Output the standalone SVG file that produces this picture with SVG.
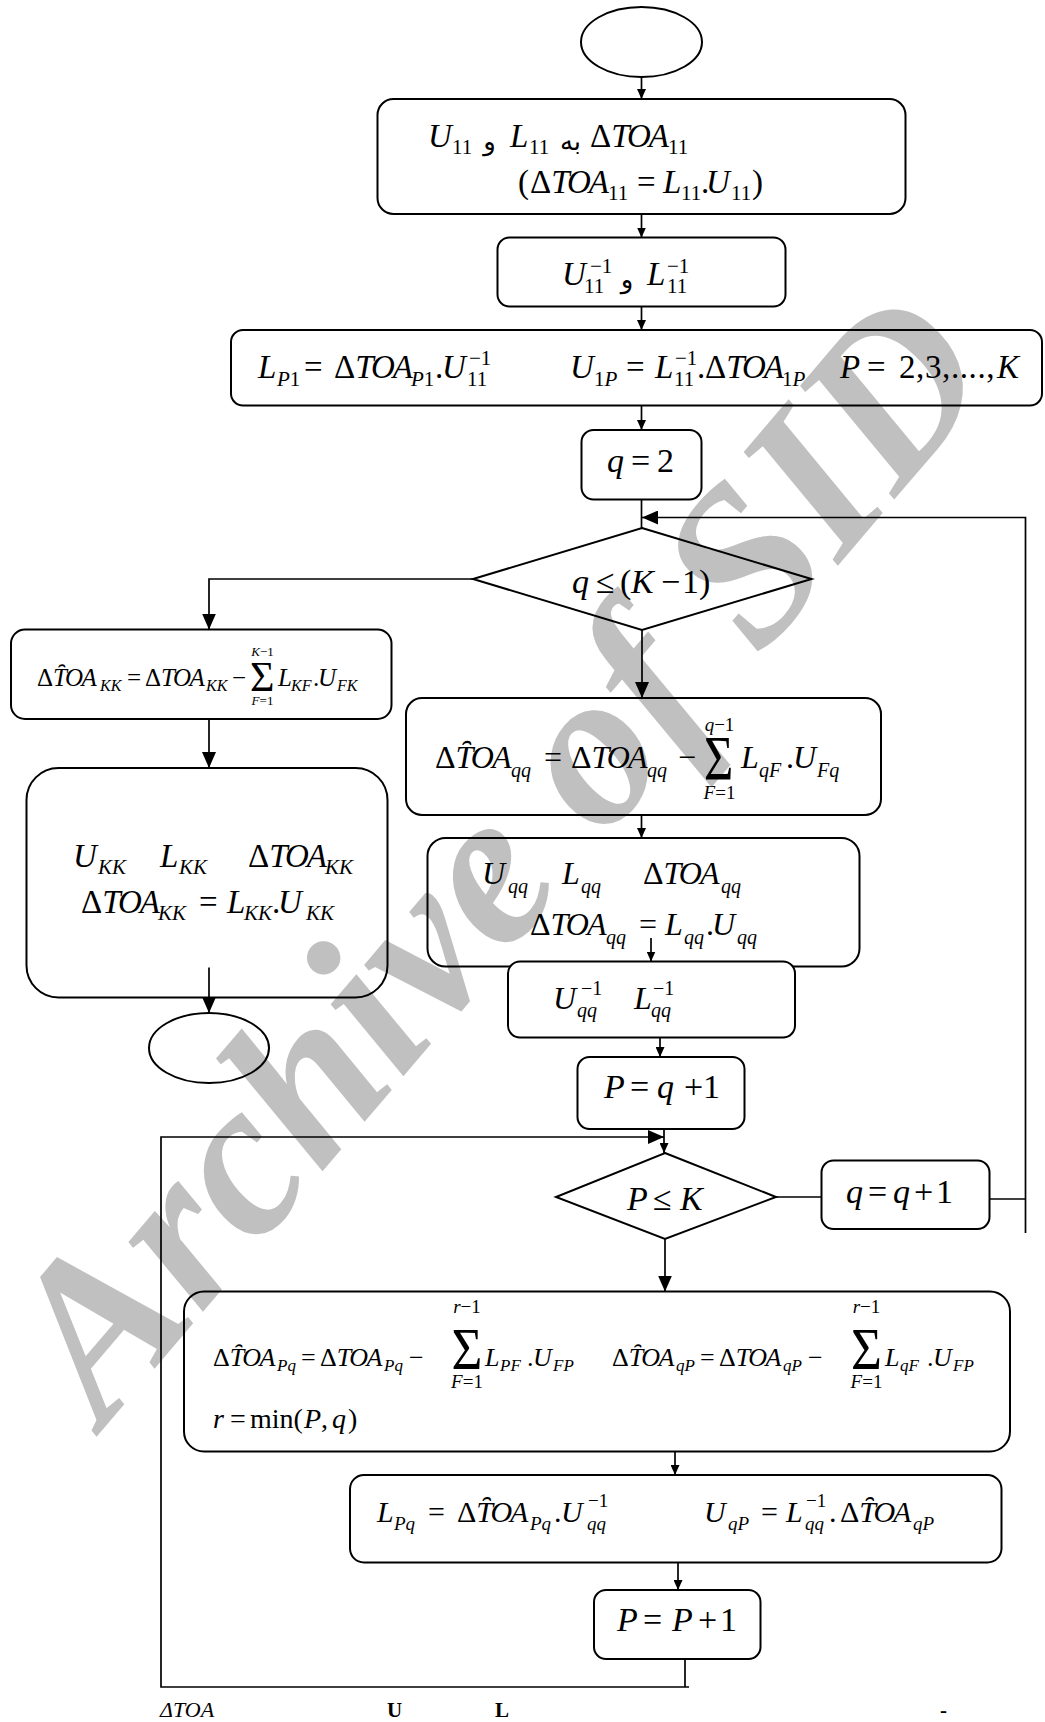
<svg xmlns="http://www.w3.org/2000/svg" width="1045" height="1722" viewBox="0 0 1045 1722">
<style>
text{font-family:"Liberation Serif","Times New Roman",serif;fill:#000;font-style:italic}
.n{font-style:normal}
.k{letter-spacing:-2px}
.k2{letter-spacing:-1.5px}
.ar{font-family:"DejaVu Sans","Noto Sans",sans-serif;font-style:normal}
.b{fill:none;stroke:#000;stroke-width:2}
.bw{fill:#fff;stroke:#000;stroke-width:2}
.c{fill:none;stroke:#000;stroke-width:1.7}
.wm{font-family:"Liberation Serif",serif;font-style:italic;font-weight:bold;fill:#c0c0c0}
.ft{font-weight:bold;font-style:normal}
</style>
<defs>
<marker id="s" viewBox="0 0 10 9" refX="10" refY="4.5" markerWidth="10" markerHeight="9" markerUnits="userSpaceOnUse" orient="auto"><path d="M0,0L10,4.5L0,9z" fill="#000"/></marker>
<marker id="l" viewBox="0 0 16 14" refX="16" refY="7" markerWidth="16" markerHeight="14" markerUnits="userSpaceOnUse" orient="auto"><path d="M0,0L16,7L0,14z" fill="#000"/></marker>
</defs>
<rect width="1045" height="1722" fill="#fff"/>
<text class="wm" font-size="222" transform="translate(104,1428) rotate(-49.6)">Archive of SID</text>

<g id="start"><ellipse class="b" cx="641.5" cy="42" rx="60.5" ry="35"/></g>

<g id="box1">
<rect class="b" x="377.5" y="99" width="528" height="115" rx="16"/>
<text font-size="33"><tspan x="428" y="147">U</tspan><tspan class="n" x="452" y="154" font-size="21">11</tspan><tspan x="510" y="147">L</tspan><tspan class="n" x="529" y="154" font-size="21">11</tspan><tspan class="n" x="590" y="147">Δ</tspan><tspan class="k" y="147">TOA</tspan><tspan class="n" x="668" y="154" font-size="21">11</tspan></text>
<text class="ar" font-size="26" x="489.5" y="150" text-anchor="middle">و</text>
<text class="ar" font-size="26" x="570.5" y="150" text-anchor="middle">به</text>
<text font-size="33"><tspan class="n" x="518" y="193">(</tspan><tspan class="n" x="530" y="193">Δ</tspan><tspan class="k" y="193">TOA</tspan><tspan class="n" x="608" y="200" font-size="21">11</tspan><tspan class="n" x="637" y="193">=</tspan><tspan x="663" y="193">L</tspan><tspan class="n" x="681" y="200" font-size="21">11</tspan><tspan class="n" x="701" y="193">.</tspan><tspan x="706" y="193">U</tspan><tspan class="n" x="731" y="200" font-size="21">11</tspan><tspan class="n" x="752" y="193">)</tspan></text>
</g>

<g id="box2">
<rect class="b" x="497.5" y="237.5" width="288" height="69" rx="12"/>
<text font-size="33"><tspan x="562" y="285">U</tspan><tspan class="n" font-size="21" x="590" y="273">−1</tspan><tspan class="n" font-size="21" x="584" y="293">11</tspan><tspan x="647" y="285">L</tspan><tspan class="n" font-size="21" x="667" y="273">−1</tspan><tspan class="n" font-size="21" x="667" y="293">11</tspan></text>
<text class="ar" font-size="26" x="627" y="288" text-anchor="middle">و</text>
</g>

<g id="box3">
<rect class="b" x="231" y="330" width="811" height="75.5" rx="12"/>
<text font-size="33"><tspan x="258" y="378">L</tspan><tspan font-size="21" x="277" y="386">P</tspan><tspan class="n" font-size="21" y="386">1</tspan><tspan class="n" x="304" y="378">=</tspan><tspan class="n" x="334" y="378">Δ</tspan><tspan class="k" y="378">TOA</tspan><tspan font-size="21" x="411" y="386">P</tspan><tspan class="n" font-size="21" y="386">1</tspan><tspan class="n" x="435" y="378">.</tspan><tspan x="442" y="378">U</tspan><tspan class="n" font-size="21" x="469" y="365">−1</tspan><tspan class="n" font-size="21" x="467" y="386">11</tspan><tspan x="570" y="378">U</tspan><tspan class="n" font-size="21" x="594" y="386">1</tspan><tspan font-size="21" y="386">P</tspan><tspan class="n" x="626" y="378">=</tspan><tspan x="655" y="378">L</tspan><tspan class="n" font-size="21" x="675" y="365">−1</tspan><tspan class="n" font-size="21" x="674" y="386">11</tspan><tspan class="n" x="697" y="378">.</tspan><tspan class="n" x="705" y="378">Δ</tspan><tspan class="k" y="378">TOA</tspan><tspan class="n" font-size="21" x="782" y="386">1</tspan><tspan font-size="21" y="386">P</tspan><tspan x="840" y="378">P</tspan><tspan class="n" x="867" y="378">=</tspan><tspan class="n" x="899" y="378" style="letter-spacing:0.6px">2,3,....,</tspan><tspan x="997" y="378">K</tspan></text>
</g>

<g id="box4">
<rect class="b" x="581.5" y="430" width="120" height="69.5" rx="12"/>
<text font-size="34"><tspan x="607" y="472">q</tspan><tspan class="n" x="631" y="472">=</tspan><tspan class="n" x="657" y="472">2</tspan></text>
</g>

<g id="dec1">
<polygon class="b" points="642,528 811.5,579 642,630 473,579"/>
<text font-size="34"><tspan x="572" y="593">q</tspan><tspan class="n" x="596" y="593">≤</tspan><tspan class="n" x="620" y="593">(</tspan><tspan x="631" y="593">K</tspan><tspan class="n" x="661" y="593">−</tspan><tspan class="n" x="682" y="593">1</tspan><tspan class="n" x="699" y="593">)</tspan></text>
</g>

<g id="box5">
<rect class="b" x="11" y="629.5" width="380.5" height="89.5" rx="14"/>
<text font-size="25"><tspan class="n" x="37" y="686">Δ</tspan><tspan class="k2" y="686">T&#x311;OA</tspan><tspan font-size="16" x="100" y="691">KK</tspan><tspan class="n" x="127" y="686">=</tspan><tspan class="n" x="145" y="686">Δ</tspan><tspan class="k2" y="686">TOA</tspan><tspan font-size="16" x="206" y="691">KK</tspan><tspan class="n" x="232" y="686">−</tspan><tspan x="278" y="686">L</tspan><tspan font-size="16" x="291" y="691">KF</tspan><tspan class="n" x="313" y="686">.</tspan><tspan x="318" y="686">U</tspan><tspan font-size="16" x="337" y="691">FK</tspan></text>
<text class="n" font-size="42" x="250" y="691">Σ</text>
<text font-size="13" x="262.5" y="656" text-anchor="middle">K<tspan class="n">−1</tspan></text>
<text font-size="13" x="262.5" y="705" text-anchor="middle">F<tspan class="n">=1</tspan></text>
</g>

<g id="box6">
<rect class="b" x="26.5" y="768" width="361" height="229.5" rx="32"/>
<text font-size="33"><tspan x="73" y="867">U</tspan><tspan font-size="21" x="98" y="874">KK</tspan><tspan x="160" y="867">L</tspan><tspan font-size="21" x="179" y="874">KK</tspan><tspan class="n" x="248" y="867">Δ</tspan><tspan class="k" y="867">TOA</tspan><tspan font-size="21" x="325" y="874">KK</tspan></text>
<text font-size="33"><tspan class="n" x="81" y="913">Δ</tspan><tspan class="k" y="913">TOA</tspan><tspan font-size="21" x="158" y="920">KK</tspan><tspan class="n" x="199" y="913">=</tspan><tspan x="227" y="913">L</tspan><tspan font-size="21" x="244" y="920">KK</tspan><tspan class="n" x="272" y="913">.</tspan><tspan x="278" y="913">U</tspan><tspan font-size="21" x="306" y="920">KK</tspan></text>
</g>

<g id="end"><ellipse class="b" cx="209" cy="1048" rx="60" ry="35"/></g>

<g id="box7">
<rect class="b" x="406" y="698" width="475" height="117" rx="16"/>
<text font-size="32"><tspan class="n" x="435" y="768">Δ</tspan><tspan class="k" y="768">T&#x311;OA</tspan><tspan font-size="20" x="511" y="777">qq</tspan><tspan class="n" x="544" y="768">=</tspan><tspan class="n" x="571" y="768">Δ</tspan><tspan class="k" y="768">TOA</tspan><tspan font-size="20" x="647" y="777">qq</tspan><tspan class="n" x="678" y="768">−</tspan><tspan x="741" y="768">L</tspan><tspan font-size="20" x="759" y="777">qF</tspan><tspan class="n" x="786" y="768">.</tspan><tspan x="793" y="768">U</tspan><tspan font-size="20" x="817" y="777">Fq</tspan></text>
<text class="n" font-size="63" transform="translate(704,780) scale(0.8,1)">Σ</text>
<text font-size="19" x="719.5" y="731" text-anchor="middle">q<tspan class="n">−1</tspan></text>
<text font-size="19" x="719.5" y="799" text-anchor="middle">F<tspan class="n">=1</tspan></text>
</g>

<g id="box8">
<rect class="b" x="427.5" y="838" width="432" height="128.5" rx="18"/>
<text font-size="32"><tspan x="482" y="884">U</tspan><tspan font-size="20" x="508" y="893">qq</tspan><tspan x="562" y="884">L</tspan><tspan font-size="20" x="581" y="893">qq</tspan><tspan class="n" x="643" y="884">Δ</tspan><tspan class="k" y="884">TOA</tspan><tspan font-size="20" x="721" y="893">qq</tspan></text>
<text font-size="32"><tspan class="n" x="530" y="935">Δ</tspan><tspan class="k" y="935">TOA</tspan><tspan font-size="20" x="606" y="944">qq</tspan><tspan class="n" x="639" y="935">=</tspan><tspan x="665" y="935">L</tspan><tspan font-size="20" x="684" y="944">qq</tspan><tspan class="n" x="706" y="935">.</tspan><tspan x="712" y="935">U</tspan><tspan font-size="20" x="737" y="944">qq</tspan></text>
</g>

<g id="box9">
<rect class="bw" x="508" y="961.5" width="287" height="76" rx="12"/>
<text font-size="32"><tspan x="553" y="1009">U</tspan><tspan class="n" font-size="20" x="581" y="995">−1</tspan><tspan font-size="20" x="577" y="1017">qq</tspan><tspan x="634" y="1009">L</tspan><tspan class="n" font-size="20" x="653" y="995">−1</tspan><tspan font-size="20" x="651" y="1017">qq</tspan></text>
</g>

<g id="box10">
<rect class="b" x="577.5" y="1057" width="167" height="72" rx="12"/>
<text font-size="34"><tspan x="604" y="1098">P</tspan><tspan class="n" x="630" y="1098">=</tspan><tspan x="657" y="1098">q</tspan><tspan class="n" x="684" y="1098">+</tspan><tspan class="n" x="703" y="1098">1</tspan></text>
</g>

<g id="dec2">
<polygon class="b" points="665,1153 776,1197 665,1239 556,1197"/>
<text font-size="34"><tspan x="627" y="1210">P</tspan><tspan class="n" x="653" y="1210">≤</tspan><tspan x="680" y="1210">K</tspan></text>
</g>

<g id="box11">
<rect class="b" x="821.5" y="1160.5" width="168" height="68.5" rx="12"/>
<text font-size="34"><tspan x="846" y="1203">q</tspan><tspan class="n" x="868" y="1203">=</tspan><tspan x="893" y="1203">q</tspan><tspan class="n" x="914" y="1203">+</tspan><tspan class="n" x="936" y="1203">1</tspan></text>
</g>

<g id="box12">
<rect class="b" x="184" y="1291.5" width="826" height="160" rx="20"/>
<text font-size="26"><tspan class="n" x="213" y="1366">Δ</tspan><tspan class="k2" y="1366">T&#x311;OA</tspan><tspan font-size="17" x="277" y="1371">Pq</tspan><tspan class="n" x="301" y="1366">=</tspan><tspan class="n" x="320" y="1366">Δ</tspan><tspan class="k2" y="1366">TOA</tspan><tspan font-size="17" x="384" y="1371">Pq</tspan><tspan class="n" x="409" y="1366">−</tspan><tspan x="485" y="1366">L</tspan><tspan font-size="17" x="500" y="1371">PF</tspan><tspan class="n" x="527" y="1366">.</tspan><tspan x="533" y="1366">U</tspan><tspan font-size="17" x="553" y="1371">FP</tspan></text>
<text class="n" font-size="59" transform="translate(451.5,1369) scale(0.9,1)">Σ</text>
<text font-size="19" x="467" y="1313" text-anchor="middle">r<tspan class="n">−1</tspan></text>
<text font-size="19" x="467" y="1388" text-anchor="middle">F<tspan class="n">=1</tspan></text>
<text font-size="26"><tspan class="n" x="612" y="1366">Δ</tspan><tspan class="k2" y="1366">T&#x311;OA</tspan><tspan font-size="17" x="676" y="1371">qP</tspan><tspan class="n" x="700" y="1366">=</tspan><tspan class="n" x="719" y="1366">Δ</tspan><tspan class="k2" y="1366">TOA</tspan><tspan font-size="17" x="783" y="1371">qP</tspan><tspan class="n" x="808" y="1366">−</tspan><tspan x="885" y="1366">L</tspan><tspan font-size="17" x="900" y="1371">qF</tspan><tspan class="n" x="927" y="1366">.</tspan><tspan x="933" y="1366">U</tspan><tspan font-size="17" x="953" y="1371">FP</tspan></text>
<text class="n" font-size="59" transform="translate(851,1369) scale(0.9,1)">Σ</text>
<text font-size="19" x="866.5" y="1313" text-anchor="middle">r<tspan class="n">−1</tspan></text>
<text font-size="19" x="866.5" y="1388" text-anchor="middle">F<tspan class="n">=1</tspan></text>
<text font-size="28"><tspan x="213" y="1428">r</tspan><tspan class="n" x="230" y="1428">=</tspan><tspan class="n" x="250" y="1428">min(</tspan><tspan x="304" y="1428">P</tspan><tspan class="n" x="321" y="1428">,</tspan><tspan x="332" y="1428">q</tspan><tspan class="n" x="348" y="1428">)</tspan></text>
</g>

<g id="box13">
<rect class="b" x="350" y="1475" width="651.5" height="87.5" rx="14"/>
<text font-size="30"><tspan x="377" y="1522">L</tspan><tspan font-size="19" x="394" y="1530">Pq</tspan><tspan class="n" x="428" y="1522">=</tspan><tspan class="n" x="457" y="1522">Δ</tspan><tspan class="k" y="1522">T&#x311;OA</tspan><tspan font-size="19" x="530" y="1530">Pq</tspan><tspan class="n" x="554" y="1522">.</tspan><tspan x="561" y="1522">U</tspan><tspan class="n" font-size="19" x="588" y="1507">−1</tspan><tspan font-size="19" x="587" y="1530">qq</tspan><tspan x="704" y="1522">U</tspan><tspan font-size="19" x="728" y="1530">qP</tspan><tspan class="n" x="761" y="1522">=</tspan><tspan x="786" y="1522">L</tspan><tspan class="n" font-size="19" x="806" y="1507">−1</tspan><tspan font-size="19" x="805" y="1530">qq</tspan><tspan class="n" x="829" y="1522">.</tspan><tspan class="n" x="840" y="1522">Δ</tspan><tspan class="k" y="1522">T&#x311;OA</tspan><tspan font-size="19" x="913" y="1530">qP</tspan></text>
</g>

<g id="box14">
<rect class="b" x="594" y="1590" width="166.5" height="69" rx="12"/>
<text font-size="34"><tspan x="617" y="1631">P</tspan><tspan class="n" x="643" y="1631">=</tspan><tspan x="672" y="1631">P</tspan><tspan class="n" x="698" y="1631">+</tspan><tspan class="n" x="720" y="1631">1</tspan></text>
</g>

<g id="connectors">
<path class="c" d="M641.5,77V99" marker-end="url(#s)"/>
<path class="c" d="M641.5,214V237.5" marker-end="url(#s)"/>
<path class="c" d="M641.5,306.5V330" marker-end="url(#s)"/>
<path class="c" d="M641.5,405.5V430" marker-end="url(#s)"/>
<path class="c" d="M641.5,499.5V528"/>
<path class="c" d="M1025.5,1233V517.5H642" marker-end="url(#l)"/>
<path class="c" d="M989.5,1199H1025.5"/>
<path class="c" d="M473,579H209V629.5" marker-end="url(#l)"/>
<path class="c" d="M642,630V698" marker-end="url(#l)"/>
<path class="c" d="M209,719V768" marker-end="url(#l)"/>
<path class="c" d="M209,967.5V1013" marker-end="url(#l)"/>
<path class="c" d="M641.5,815V838" marker-end="url(#s)"/>
<path class="c" d="M651,938V961.5" marker-end="url(#s)"/>
<path class="c" d="M660,1037.5V1057" marker-end="url(#s)"/>
<path class="c" d="M664,1129V1153" marker-end="url(#s)"/>
<path class="c" d="M685,1659V1687"/>
<path class="c" d="M689,1687H161V1137H664" marker-end="url(#l)"/>
<path class="c" d="M776,1197H821.5"/>
<path class="c" d="M665,1239V1291.5" marker-end="url(#l)"/>
<path class="c" d="M675,1451.5V1475" marker-end="url(#s)"/>
<path class="c" d="M678,1562.5V1590" marker-end="url(#s)"/>
</g>

<g id="footer">
<text font-size="22" x="160" y="1717">ΔTOA</text>
<text class="ft" font-size="21" x="387" y="1717">U</text>
<text class="ft" font-size="21" x="495" y="1717">L</text>
<text class="ft" font-size="21" x="940" y="1717">-</text>
</g>
</svg>
